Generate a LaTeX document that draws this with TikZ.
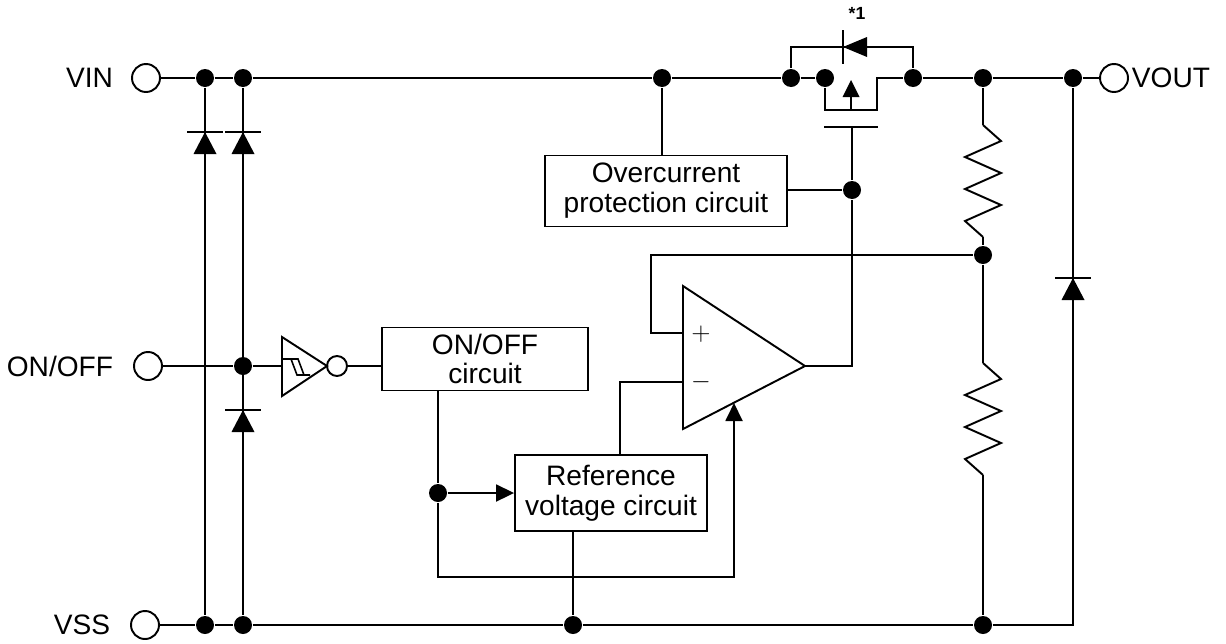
\documentclass[tikz,border=0pt]{standalone}
\usepackage{fontspec}
\setmainfont{Liberation Sans}
\usetikzlibrary{arrows.meta,calc}

\tikzset{
  dot/.style={circle,fill=black,inner sep=0pt,minimum size=0.36cm},
  term/.style={circle,draw=black,fill=white,inner sep=0pt,minimum size=0.56cm},
  blockbox/.style={draw=black,align=center,inner sep=0pt,font=\fontsize{16}{17}\selectfont},
  pinlabel/.style={font=\fontsize{16}{19}\selectfont,inner sep=0pt},
  tri/.style={-{Triangle[length=0.36cm,width=0.34cm]}},
  pics/diodeup/.style={code={
    \fill (0,0) -- (11.5,22) -- (-11.5,22) -- cycle;
    \draw (-18,0) -- (18,0);}},
  pics/zigzag/.style={code={
    \draw (0,0) -- (18,16) -- (-18,32) -- (18,48) -- (-18,64) -- (18,80) -- (-18,96) -- (0,112);}}
}

\begin{document}
\begin{tikzpicture}[x=0.02cm,y=-0.02cm,line width=1.1pt,line join=miter]
        \useasboundingbox (0,0) rectangle (1226,643);
        % terminals
        \node[term] (vin) at (146,78) {};
        \node[term] (onoff) at (148,366) {};
        \node[term] (vss) at (145,625) {};
        \node[term] (vout) at (1114,78) {};
        \node[pinlabel,anchor=east] (vinlbl) at (114,78) {VIN};
        \node[pinlabel,anchor=east] (onofflbl) at (114,366) {ON/OFF};
        \node[pinlabel,anchor=east] (vsslbl) at (111,625) {VSS};
        \node[pinlabel,anchor=west] (voutlbl) at (1131,78) {VOUT};
        % blocks
        \node[blockbox,minimum width=4.12cm,minimum height=1.26cm] (onbox) at (485,359) {ON/OFF\\circuit};
        \node[blockbox,minimum width=4.84cm,minimum height=1.42cm] (ocbox) at (666,191) {Overcurrent\\protection circuit};
        \node[blockbox,minimum width=3.84cm,minimum height=1.52cm] (refbox) at (611,493) {Reference\\voltage circuit};
        % dots on VIN rail
        \node[dot] (t1) at (205,78) {};
        \node[dot] (t2) at (243,78) {};
        \node[dot] (t3) at (662,78) {};
        \node[dot] (t4) at (791,78) {};
        \node[dot] (t5) at (825,78) {};
        \node[dot] (t6) at (913,78) {};
        \node[dot] (t7) at (983,78) {};
        \node[dot] (t8) at (1073,78) {};
        % dots on VSS rail
        \node[dot] (b1) at (205,625) {};
        \node[dot] (b2) at (243,625) {};
        \node[dot] (b3) at (573,625) {};
        \node[dot] (b4) at (983,625) {};
        % other dots
        \node[dot] (j1) at (243,366) {};
        \node[dot] (j2) at (438,493) {};
        \node[dot] (j3) at (852,190) {};
        \node[dot] (j4) at (983,255) {};
        % rails
        \draw (vin) -- (t1) -- (t2) -- (t3) -- (t4) -- (t5);
        \draw (t5) -- (825,110) -- (877,110) -- (877,78) -- (t6) -- (t7) -- (t8) -- (vout);
        \draw (vss) -- (b1) -- (b2) -- (b3) -- (b4) -- (1073,625) -- (t8);
        \draw (t1) -- (b1);
        \draw (t2) -- (b2);
        % input diodes
        \pic at (205,132) {diodeup};
        \pic at (243,132) {diodeup};
        \pic at (243,410) {diodeup};
        \pic at (1073,278) {diodeup};
        % parasitic diode *1 and pmos
        \draw (t4) -- (791,47) -- (913,47) -- (t6);
        \fill (843,47) -- (867,37) -- (867,57) -- cycle;
        \draw (843,30) -- (843,64);
        \node[font=\bfseries\fontsize{10}{12}\selectfont,inner sep=0pt] (star) at (857,13) {*1};
        \draw (851,110) -- (851,96);
        \fill (851,80) -- (859.5,97) -- (842.5,97) -- cycle;
        \draw (824,127) -- (878,127);
        % on/off path
        \draw (onoff) -- (j1) -- (282,366);
        \draw (282,337) -- (327,366) -- (282,396) -- cycle;
        \draw[line width=0.9pt] (283,359) -- (298,359) -- (304,375) -- (310,375);
        \draw[line width=0.9pt] (291,359) -- (297,375) -- (304,375);
        \node[circle,draw=black,inner sep=0pt,minimum size=0.4cm] (bub) at (337,366) {};
        \draw (bub) -- (onbox.west |- bub);
        \draw (onbox.south -| j2) -- (j2);
        \draw[tri] (j2) -- (refbox.west |- j2);
        \draw[tri] (j2) |- (734,577) -- (734,403);
        \draw (refbox.south -| b3) -- (b3);
        % error amplifier
        \draw (683,286) -- (805,366) -- (683,429) -- cycle;
        \coordinate (out) at (805,366);
        \node[font=\fontsize{14}{14}\selectfont] (plus) at (701,334) {$+$};
        \node[font=\fontsize{14}{14}\selectfont] (minus) at (701,382) {$-$};
        \draw (620,455) |- (683,382);
        \draw (683,333) -- (651,333) |- (j4);
        \draw (out) -- (852,366) -- (j3) -- (852,127);
        \draw (ocbox.east |- j3) -- (j3);
        \draw (ocbox.north -| t3) -- (t3);
        % feedback divider
        \draw (t7) -- (983,125);
        \pic at (983,125) {zigzag};
        \draw (983,237) -- (j4) -- (983,363);
        \pic at (983,363) {zigzag};
        \draw (983,475) -- (b4);
     \end{tikzpicture}
\end{document}
